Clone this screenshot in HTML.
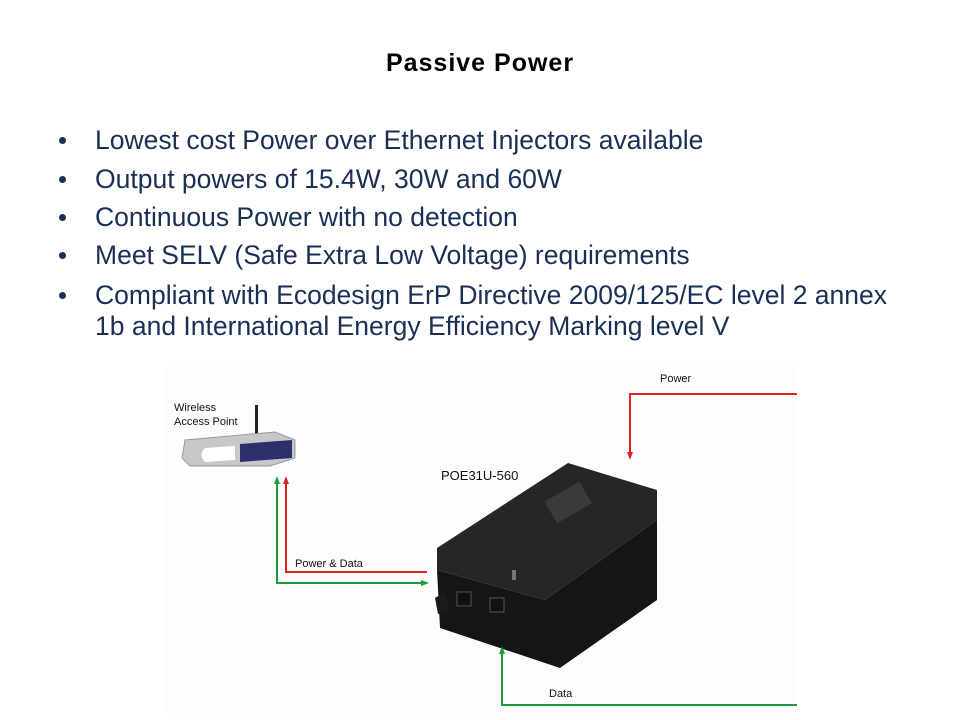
<!DOCTYPE html>
<html><head><meta charset="utf-8"><style>
body{margin:0;width:960px;height:720px;background:#fff;position:relative;overflow:hidden;font-family:"Liberation Sans",Arial,sans-serif}
.t{position:absolute;white-space:nowrap}
.b{color:#1b2f55;font-size:26.5px;line-height:30px;left:95px}
.d{position:absolute;left:59px;width:7px;height:7px;border-radius:50%;background:#1b2f55}
</style></head><body>
<div class="t" style="left:0;width:960px;text-align:center;top:49px;font-size:25px;font-weight:bold;letter-spacing:1px;color:#000">Passive Power</div>
<div class="d" style="top:137px"></div><div class="t b" style="top:125px">Lowest cost Power over Ethernet Injectors available</div>
<div class="d" style="top:176px"></div><div class="t b" style="top:164px">Output powers of 15.4W, 30W and 60W</div>
<div class="d" style="top:214px"></div><div class="t b" style="top:202px">Continuous Power with no detection</div>
<div class="d" style="top:252px"></div><div class="t b" style="top:240px">Meet SELV (Safe Extra Low Voltage) requirements</div>
<div class="d" style="top:292px"></div><div class="t b" style="top:280px">Compliant with Ecodesign ErP Directive 2009/125/EC level 2 annex</div>
<div class="t b" style="top:311px">1b and International Energy Efficiency Marking level V</div>
<svg style="position:absolute;left:0;top:0" width="960" height="720">
<defs>
<marker id="r" markerWidth="8" markerHeight="8" refX="4" refY="4" orient="auto" markerUnits="userSpaceOnUse"><path d="M0,1 L8,4 L0,7z" fill="#d22"/></marker>
<marker id="g" markerWidth="8" markerHeight="8" refX="4" refY="4" orient="auto" markerUnits="userSpaceOnUse"><path d="M0,1 L8,4 L0,7z" fill="#1a9a3a"/></marker>
</defs>
<rect x="165" y="362" width="632" height="356" fill="#fdfdfd"/>
<polyline points="797,394 630,394 630,456" fill="none" stroke="#d22" stroke-width="2" marker-end="url(#r)"/>
<polyline points="427,572 286,572 286,480" fill="none" stroke="#d22" stroke-width="2" marker-end="url(#r)"/>
<polyline points="277,480 277,583 425,583" fill="none" stroke="#1a9a3a" stroke-width="2" marker-end="url(#g)"/>
<polyline points="277,583 277,480" fill="none" stroke="#1a9a3a" stroke-width="2" marker-end="url(#g)"/>
<text x="660" y="382" font-size="11" font-family="Liberation Sans" fill="#111">Power</text>
<text x="295" y="567" font-size="11" font-family="Liberation Sans" fill="#111">Power &amp; Data</text>
<text x="549" y="697" font-size="11" font-family="Liberation Sans" fill="#111">Data</text>
<text x="174" y="411" font-size="11" font-family="Liberation Sans" fill="#111">Wireless</text>
<text x="174" y="425" font-size="11" font-family="Liberation Sans" fill="#111">Access Point</text>
<text x="441" y="480" font-size="13" font-family="Liberation Sans" fill="#111">POE31U-560</text>
<!-- router -->
<rect x="255" y="405" width="3" height="30" fill="#222"/>
<path d="M185,440 L275,432 L295,440 L295,458 L270,466 L190,466 L182,458z" fill="#c8c8cc" stroke="#999"/>
<path d="M240,444 L292,440 L292,458 L240,462z" fill="#2b2f6a"/>
<path d="M205,448 L235,446 L235,460 L205,462 Q198,455 205,448z" fill="#fff"/>
<!-- device -->
<path d="M437,570 L545,600 L657,520 L657,600 L560,668 L440,628z" fill="#151515"/>
<path d="M437,548 L568,463 L657,490 L657,520 L545,600 L437,570z" fill="#262626"/>
<path d="M435,598 L445,592 L450,612 L438,614z" fill="#1a1a1a"/>
<rect x="457" y="592" width="14" height="14" fill="#111" stroke="#555"/>
<rect x="490" y="598" width="14" height="14" fill="#111" stroke="#555"/>
<rect x="548" y="490" width="40" height="25" fill="#555" opacity=".45" transform="rotate(-30 568 502)"/>
<rect x="512" y="570" width="4" height="10" fill="#777"/>
<polyline points="797,705 502,705 502,650" fill="none" stroke="#1a9a3a" stroke-width="2" marker-end="url(#g)"/>
</svg>
</body></html>
